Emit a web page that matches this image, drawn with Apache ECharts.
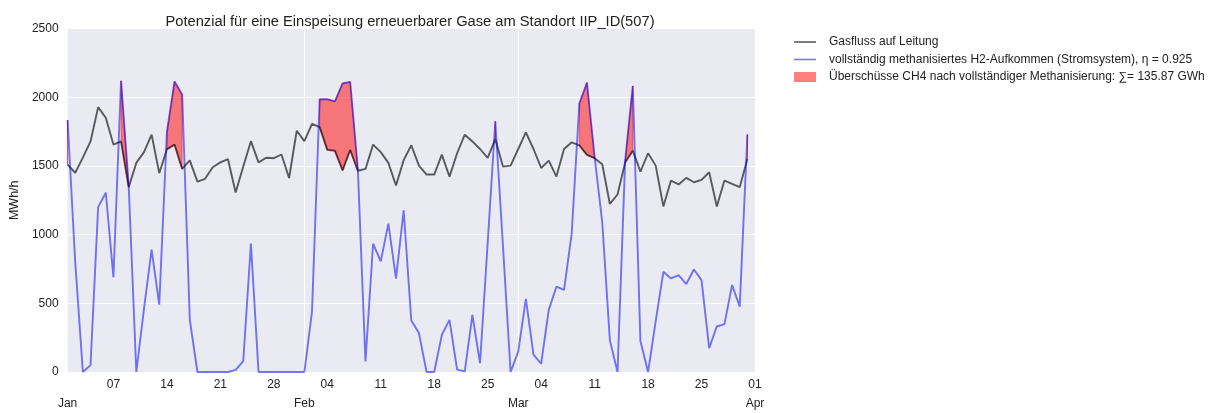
<!DOCTYPE html>
<html>
<head>
<meta charset="utf-8">
<script src="https://cdn.jsdelivr.net/npm/echarts@6/dist/echarts.min.js"></script>
<style>html,body{margin:0;padding:0;background:#fff}#c{width:1231px;height:413px}</style>
</head>
<body>
<div id="c"></div>
<script>
// ---- data (daily, 2018-01-01 .. 2018-03-31) ----
const startDate = '2018-01-01';
const axisDays = 91; // Jan 1 .. Apr 1
const gasFlow = [1510,1450,1560,1678,1928,1850,1655,1678,1345,1522,
  1600,1728,1447,1620,1655,1478,1540,1386,1406,1490,
  1526,1549,1307,1495,1680,1526,1559,1556,1583,1412,
  1756,1680,1806,1782,1617,1610,1467,1616,1465,1478,
  1655,1600,1522,1357,1542,1650,1502,1437,1437,1582,
  1422,1592,1727,1678,1623,1558,1695,1495,1502,1623,
  1744,1623,1485,1538,1422,1623,1672,1650,1580,1556,
  1512,1223,1292,1525,1611,1458,1592,1502,1205,1393,
  1365,1413,1381,1398,1454,1205,1393,1369,1345,1550];
const h2Methan = [1833,800,0,50,1200,1305,690,2120,1355,0,
  460,890,490,1745,2115,2020,380,0,0,0,
  0,0,15,80,935,0,0,0,0,0,
  0,0,440,1985,1985,1970,2100,2112,1480,77,
  935,805,1080,680,1176,375,283,0,0,270,
  379,17,5,415,65,940,1825,920,0,148,
  532,126,60,452,621,597,1007,1954,2106,1565,
  1090,230,0,1540,2082,225,0,370,729,681,
  705,640,746,669,174,331,348,633,476,1728];
const weekTickDates = ['2018-01-07','2018-01-14','2018-01-21','2018-01-28','2018-02-04','2018-02-11',
  '2018-02-18','2018-02-25','2018-03-04','2018-03-11','2018-03-18','2018-03-25','2018-04-01'];
const monthTickDates = ['2018-01-01','2018-02-01','2018-03-01','2018-04-01'];
const monthNames = ['Jan','Feb','Mar','Apr'];
const gridMonthDates = ['2018-02-01','2018-03-01'];
const yTicks = [0, 500, 1000, 1500, 2000, 2500];
const names = ['Gasfluss auf Leitung',
  'vollständig methanisiertes H2-Aufkommen (Stromsystem), η = 0.925',
  'Überschüsse CH4 nach vollständiger Methanisierung: ∑= 135.87 GWh'];

// categories
const categories = [];
{
  const d0 = new Date(startDate + 'T00:00:00Z');
  for (let i = 0; i < axisDays; i++) {
    const d = new Date(d0.getTime() + i * 86400000);
    categories.push(d.toISOString().slice(0, 10));
  }
}
// runs where surplus (no interpolation, like fill_between with where=)
const runs = [];
{
  let s = -1;
  for (let i = 0; i < h2Methan.length; i++) {
    const on = h2Methan[i] > gasFlow[i];
    if (on && s < 0) s = i;
    if (!on && s >= 0) { runs.push([s, i - 1]); s = -1; }
  }
  if (s >= 0) runs.push([s, h2Methan.length - 1]);
}

const FONT = 'Liberation Sans, Arial, sans-serif';
const LINE_ICON = 'path://M0,0H40V3H0Z';
const chart = echarts.init(document.getElementById('c'), null, {renderer: 'canvas'});
chart.setOption({
  backgroundColor: '#ffffff',
  animation: false,
  title: {
    text: 'Potenzial für eine Einspeisung erneuerbarer Gase am Standort IIP_ID(507)',
    left: 405, top: 9, textAlign: 'center',
    textStyle: {fontFamily: FONT, fontSize: 14.7, fontWeight: 'normal', color: '#222'}
  },
  legend: {
    orient: 'vertical', left: 789, top: 31,
    itemWidth: 22, itemHeight: 10, itemGap: 5.5,
    textStyle: {fontFamily: FONT, fontSize: 12, color: '#222', padding: [0, 0, 0, 8]},
    data: [{name: names[0], icon: LINE_ICON}, {name: names[1], icon: LINE_ICON}, {name: names[2], icon: 'rect'}]
  },
  grid: {left: 65, right: 476, top: 28.5, bottom: 40, show: true, backgroundColor: '#EAEAF2', borderWidth: 0},
  xAxis: {
    type: 'category', data: categories, boundaryGap: false,
    axisLine: {show: false}, axisTick: {show: false},
    axisLabel: {
      fontFamily: FONT, fontSize: 12, color: '#222', margin: 3, lineHeight: 19,
      interval: (i, v) => weekTickDates.includes(v) || monthTickDates.includes(v),
      formatter: (v) => {
        let s = weekTickDates.includes(v) ? v.slice(8, 10) : '';
        const m = monthTickDates.indexOf(v);
        if (m >= 0) s += '\n' + monthNames[m];
        return s;
      }
    },
    splitLine: {show: true, lineStyle: {color: '#ffffff', width: 1},
      interval: (i, v) => gridMonthDates.includes(v)}
  },
  yAxis: {
    type: 'value', min: yTicks[0], max: yTicks[yTicks.length - 1], interval: 500,
    name: 'MWh/h', nameLocation: 'middle', nameGap: 38, nameRotate: 90,
    nameTextStyle: {fontFamily: FONT, fontSize: 12.5, color: '#222'},
    axisLine: {show: false}, axisTick: {show: false},
    axisLabel: {fontFamily: FONT, fontSize: 12, color: '#222', margin: 9, formatter: (v) => String(v)},
    splitLine: {show: true, lineStyle: {color: '#ffffff', width: 1}}
  },
  series: [
    {
      name: names[2], type: 'custom', z: 1,
      itemStyle: {color: 'rgba(255,0,0,0.5)'},
      encode: {x: 0, y: 1},
      data: runs,
      renderItem: (params, api) => {
        const a = api.value(0), b = api.value(1);
        const pts = [];
        for (let i = a; i <= b; i++) pts.push(api.coord([i, h2Methan[i]]));
        for (let i = b; i >= a; i--) pts.push(api.coord([i, gasFlow[i]]));
        return {type: 'polygon', shape: {points: pts},
          style: {fill: 'rgba(255,0,0,0.5)', stroke: 'rgba(255,0,0,0.5)', lineWidth: 1}};
      }
    },
    {
      name: names[0], type: 'line', data: gasFlow, z: 2, symbol: 'none',
      lineStyle: {color: 'rgba(0,0,0,0.62)', width: 1.9}, itemStyle: {color: 'rgba(0,0,0,0.62)'}
    },
    {
      name: names[1], type: 'line', data: h2Methan, z: 3, symbol: 'none',
      lineStyle: {color: 'rgba(0,0,240,0.52)', width: 1.9}, itemStyle: {color: 'rgba(0,0,240,0.52)'}
    }
  ]
});
</script>
</body>
</html>
